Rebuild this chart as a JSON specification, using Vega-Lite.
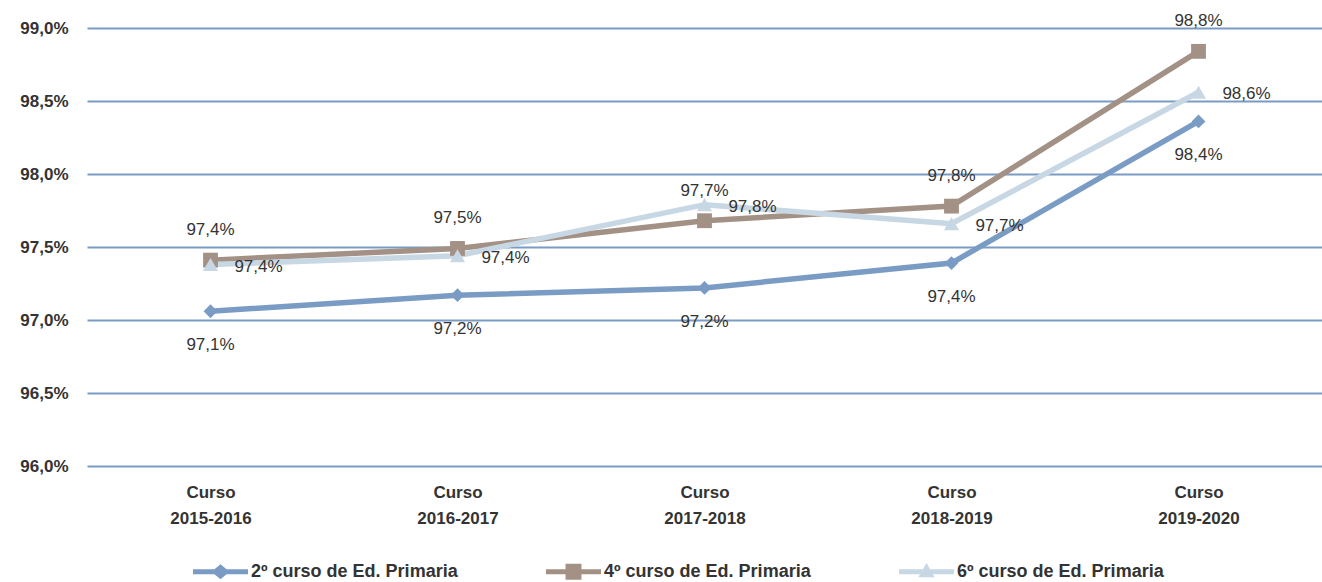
{
  "$schema": "https://vega.github.io/schema/vega-lite/v6.json",
  "width": 1235,
  "height": 438,
  "autosize": {"type": "none"},
  "padding": {"left": 87, "top": 28, "right": 0, "bottom": 116},
  "background": "#ffffff",
  "config": {
    "locale": {"number": {"decimal": ",", "thousands": ".", "grouping": [3], "currency": ["", " €"]}},
    "view": {"stroke": null},
    "font": "Liberation Sans"
  },
  "data": {
    "values": [
      {"curso": "2015-2016", "serie": "2º curso de Ed. Primaria", "valor": 0.9706},
      {"curso": "2016-2017", "serie": "2º curso de Ed. Primaria", "valor": 0.9717},
      {"curso": "2017-2018", "serie": "2º curso de Ed. Primaria", "valor": 0.9722},
      {"curso": "2018-2019", "serie": "2º curso de Ed. Primaria", "valor": 0.9739},
      {"curso": "2019-2020", "serie": "2º curso de Ed. Primaria", "valor": 0.9836},
      {"curso": "2015-2016", "serie": "4º curso de Ed. Primaria", "valor": 0.9741},
      {"curso": "2016-2017", "serie": "4º curso de Ed. Primaria", "valor": 0.9749},
      {"curso": "2017-2018", "serie": "4º curso de Ed. Primaria", "valor": 0.9768},
      {"curso": "2018-2019", "serie": "4º curso de Ed. Primaria", "valor": 0.9778},
      {"curso": "2019-2020", "serie": "4º curso de Ed. Primaria", "valor": 0.9884},
      {"curso": "2015-2016", "serie": "6º curso de Ed. Primaria", "valor": 0.9738},
      {"curso": "2016-2017", "serie": "6º curso de Ed. Primaria", "valor": 0.9744},
      {"curso": "2017-2018", "serie": "6º curso de Ed. Primaria", "valor": 0.9779},
      {"curso": "2018-2019", "serie": "6º curso de Ed. Primaria", "valor": 0.9766},
      {"curso": "2019-2020", "serie": "6º curso de Ed. Primaria", "valor": 0.9856}
    ]
  },
  "encoding": {
    "x": {
      "field": "curso", "type": "ordinal", "sort": null,
      "scale": {"type": "point", "padding": 0.5},
      "axis": {
        "title": null, "labelAngle": 0, "domain": false, "ticks": false, "grid": false,
        "labelExpr": "['Curso', datum.label]",
        "labelFont": "Liberation Sans", "labelFontWeight": "bold", "labelFontSize": 17,
        "labelColor": "#333333", "labelPadding": 18, "labelLineHeight": 26, "labelBaseline": "top"
      }
    },
    "y": {
      "field": "valor", "type": "quantitative",
      "scale": {"domain": [0.96, 0.99], "nice": false, "zero": false},
      "axis": {
        "title": null, "format": ".1%",
        "values": [0.96, 0.965, 0.97, 0.975, 0.98, 0.985, 0.99],
        "domain": false, "ticks": false, "grid": true,
        "gridColor": "#7a9cc4", "gridWidth": 2, "gridOpacity": 1,
        "labelFont": "Liberation Sans", "labelFontWeight": "bold", "labelFontSize": 17,
        "labelColor": "#333333", "labelPadding": 19
      }
    }
  },
  "layer": [
    {
      "mark": {"type": "line", "strokeWidth": 5.5},
      "encoding": {
        "color": {
          "field": "serie", "type": "nominal",
          "scale": {"domain": ["2º curso de Ed. Primaria", "4º curso de Ed. Primaria", "6º curso de Ed. Primaria"], "range": ["#7a9cc4", "#a39186", "#c8d7e4"]},
          "legend": {
            "title": null, "orient": "none", "direction": "horizontal",
            "legendX": 106, "legendY": 516, "padding": 0,
            "columnPadding": 88, "labelOffset": 3,
            "symbolSize": 3025, "symbolStrokeWidth": 0, "symbolOpacity": 1,
            "labelFont": "Liberation Sans", "labelFontWeight": "bold", "labelFontSize": 18,
            "labelColor": "#333333", "labelLimit": 400,
            "encode": {
              "symbols": {
                "update": {
                  "shape": {"signal": "datum.value == '2º curso de Ed. Primaria' ? 'M-1,-0.09H1V0.09H-1Z M0,-0.27L0.33,0L0,0.27L-0.33,0Z' : (datum.value == '4º curso de Ed. Primaria' ? 'M-1,-0.09H1V0.09H-1Z M-0.29,-0.29H0.29V0.29H-0.29Z' : 'M-1,-0.09H1V0.09H-1Z M0,-0.32L0.3,0.2H-0.3Z')"},
                  "fill": {"signal": "scale('color', datum.value)"},
                  "stroke": {"value": "transparent"},
                  "strokeWidth": {"value": 0},
                  "opacity": {"value": 1}
                }
              }
            }
          }
        }
      }
    },
    {
      "transform": [{"filter": "datum.serie == '2º curso de Ed. Primaria'"}],
      "mark": {"type": "point", "shape": "diamond", "filled": true, "opacity": 1, "size": 190},
      "encoding": {"color": {"field": "serie", "type": "nominal"}}
    },
    {
      "transform": [{"filter": "datum.serie == '4º curso de Ed. Primaria'"}],
      "mark": {"type": "point", "shape": "square", "filled": true, "opacity": 1, "size": 220},
      "encoding": {"color": {"field": "serie", "type": "nominal"}}
    },
    {
      "transform": [{"filter": "datum.serie == '6º curso de Ed. Primaria'"}],
      "mark": {"type": "point", "shape": "triangle-up", "filled": true, "opacity": 1, "size": 230},
      "encoding": {"color": {"field": "serie", "type": "nominal"}}
    },
    {
      "transform": [{"filter": "datum.serie == '2º curso de Ed. Primaria'"}],
      "mark": {"type": "text", "dy": 34, "fontSize": 17, "font": "Liberation Sans", "color": "#333333"},
      "encoding": {"text": {"field": "valor", "type": "quantitative", "format": ".1%"}}
    },
    {
      "transform": [{"filter": "datum.serie == '4º curso de Ed. Primaria'"}],
      "mark": {"type": "text", "dy": -30, "fontSize": 17, "font": "Liberation Sans", "color": "#333333"},
      "encoding": {"text": {"field": "valor", "type": "quantitative", "format": ".1%"}}
    },
    {
      "transform": [{"filter": "datum.serie == '6º curso de Ed. Primaria'"}],
      "mark": {"type": "text", "dx": 48, "dy": 2, "fontSize": 17, "font": "Liberation Sans", "color": "#333333"},
      "encoding": {"text": {"field": "valor", "type": "quantitative", "format": ".1%"}}
    }
  ]
}
